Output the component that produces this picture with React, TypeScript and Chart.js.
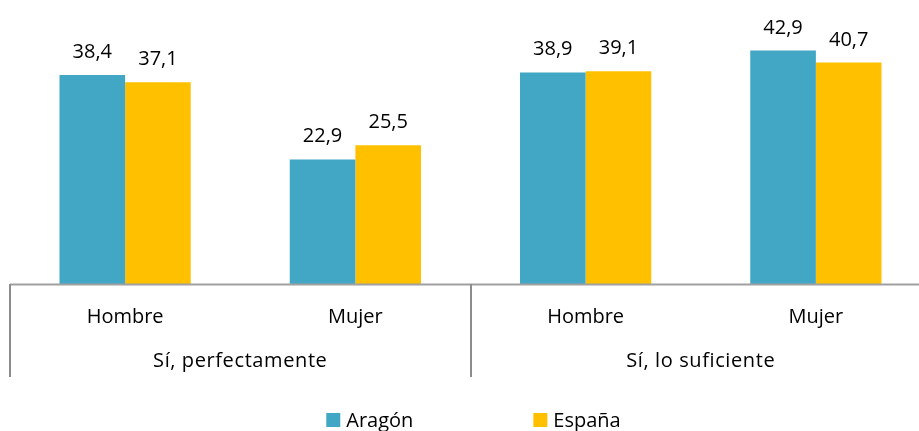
import React, { useEffect, useRef } from "react";
import { Chart, registerables } from "chart.js";

Chart.register(...registerables);

const categories = ["Hombre", "Mujer", "Hombre", "Mujer"];
const groups = ["Sí, perfectamente", "Sí, lo suficiente"];
const groupSizes = [2, 2];
const seriesNames = ["Aragón", "España"];
const aragon = [38.4, 22.9, 38.9, 42.9];
const espana = [37.1, 25.5, 39.1, 40.7];
const yMax = 50;

const COLORS = ["#42A7C4", "#FFC000"];
const FONT = '"Open Sans", sans-serif';

const fmt = (v: number) => v.toFixed(1).replace(".", ",");

const decorPlugin = {
  id: "decor",
  afterDatasetsDraw(chart: any) {
    const ctx = chart.ctx as CanvasRenderingContext2D;
    const area = chart.chartArea;
    const x = chart.scales.x;
    const catW = (x.right - x.left) / categories.length;
    ctx.save();
    // value labels
    ctx.fillStyle = "#000";
    ctx.font = `20px ${FONT}`;
    ctx.textAlign = "center";
    ctx.textBaseline = "alphabetic";
    chart.data.datasets.forEach((ds: any, di: number) => {
      const meta = chart.getDatasetMeta(di);
      meta.data.forEach((bar: any, i: number) => {
        ctx.fillText(fmt(ds.data[i]), bar.x, bar.y - 17);
      });
    });
    // axis line
    ctx.strokeStyle = "#A0A0A0";
    ctx.lineWidth = 2;
    ctx.beginPath();
    ctx.moveTo(area.left, area.bottom + 0.5);
    ctx.lineTo(area.right + 20, area.bottom + 0.5);
    ctx.stroke();
    // category ticks
    categories.forEach((c, i) => {
      ctx.fillText(c, x.getPixelForValue(i), area.bottom + 39);
    });
    // group separators and labels
    ctx.strokeStyle = "#8C8C8C";
    let start = 0;
    const bounds: number[] = [];
    (ctx as any).letterSpacing = "0.6px";
    groups.forEach((g, gi) => {
      const l = x.getPixelForValue(start) - catW / 2;
      const r = x.getPixelForValue(start + groupSizes[gi] - 1) + catW / 2;
      bounds.push(l, r);
      ctx.fillText(g, (l + r) / 2, area.bottom + 83);
      start += groupSizes[gi];
    });
    (ctx as any).letterSpacing = "0px";
    const uniq = Array.from(new Set(bounds.map((b) => Math.round(b))));
    uniq.forEach((b) => {
      ctx.beginPath();
      ctx.moveTo(b, area.bottom);
      ctx.lineTo(b, area.bottom + 93);
      ctx.stroke();
    });
    // legend
    const widths = seriesNames.map((n) => ctx.measureText(n).width);
    const gap = 120;
    const total = widths.reduce((s, w) => s + w + 20, 0) + gap;
    let lx = (area.left + area.right) / 2 + 3 - total / 2;
    ctx.textAlign = "left";
    seriesNames.forEach((n, i) => {
      ctx.fillStyle = COLORS[i];
      ctx.fillRect(lx, area.bottom + 129, 14, 14);
      ctx.fillStyle = "#000";
      ctx.fillText(n, lx + 20, area.bottom + 143);
      lx += 20 + widths[i] + gap;
    });
    ctx.restore();
  },
};

export default function App() {
  const ref = useRef<HTMLCanvasElement>(null);
  useEffect(() => {
    if (!ref.current) return;
    const chart = new Chart(ref.current, {
      type: "bar",
      data: {
        labels: categories,
        datasets: [
          { label: seriesNames[0], data: aragon, backgroundColor: COLORS[0] },
          { label: seriesNames[1], data: espana, backgroundColor: COLORS[1] },
        ],
      },
      options: {
        responsive: false,
        animation: false,
        devicePixelRatio: 1,
        layout: { padding: { left: 10, right: 9, top: 12, bottom: 147 } },
        datasets: { bar: { categoryPercentage: 0.57, barPercentage: 1 } },
        scales: {
          x: { display: false },
          y: { display: false, min: 0, max: yMax },
        },
        plugins: { legend: { display: false }, tooltip: { enabled: false } },
      },
      plugins: [decorPlugin],
    });
    return () => chart.destroy();
  }, []);
  return (
    <div
      style={{
        position: "fixed",
        left: 0,
        top: 0,
        width: 919,
        height: 431,
        overflow: "hidden",
        background: "#fff",
      }}
    >
      <canvas ref={ref} width={940} height={431} style={{ display: "block" }} />
    </div>
  );
}
